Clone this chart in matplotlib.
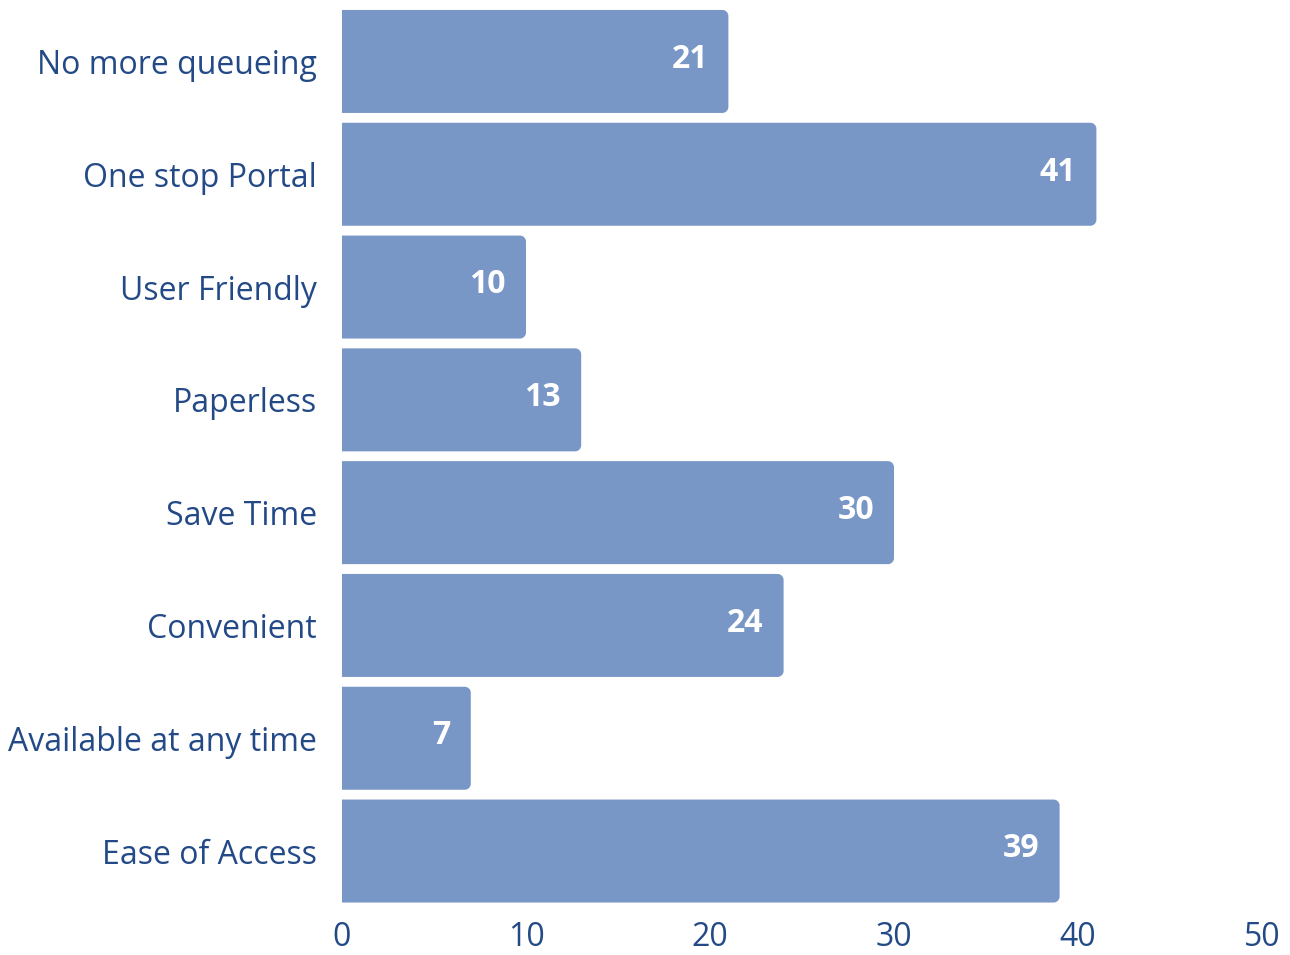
import matplotlib.pyplot as plt
from matplotlib.path import Path
from matplotlib.patches import PathPatch

categories = [
    "No more queueing",
    "One stop Portal",
    "User Friendly",
    "Paperless",
    "Save Time",
    "Convenient",
    "Available at any time",
    "Ease of Access",
]
counts = [21, 41, 10, 13, 30, 24, 7, 39]
xticks = [0, 10, 20, 30, 40, 50]

barColor = "#7896c6"
textColor = "#234a87"

plt.rcParams["font.family"] = ["Open Sans", "DejaVu Sans"]

fig = plt.figure(figsize=(12.9, 9.55), dpi=100)
ax = fig.add_axes([0.2651, 0.0498, 0.9783 - 0.2651, 0.9947 - 0.0498])

positions = list(range(len(categories)))
bars = ax.barh(positions, counts, height=0.913, color=barColor)
ax.set_xlim(0, 50)
ax.set_ylim(len(categories) - 0.5, -0.5)


def roundedRightPath(x0, y0, x1, y1, rx, ry):
    # rectangle with only the right-hand corners rounded (y grows downward)
    k = 0.55
    verts = [
        (x0, y0),
        (x1 - rx, y0),
        (x1 - rx + k * rx, y0), (x1, y0 + ry - k * ry), (x1, y0 + ry),
        (x1, y1 - ry),
        (x1, y1 - ry + k * ry), (x1 - rx + k * rx, y1), (x1 - rx, y1),
        (x0, y1),
        (x0, y0),
    ]
    codes = [
        Path.MOVETO,
        Path.LINETO,
        Path.CURVE4, Path.CURVE4, Path.CURVE4,
        Path.LINETO,
        Path.CURVE4, Path.CURVE4, Path.CURVE4,
        Path.LINETO,
        Path.CLOSEPOLY,
    ]
    return Path(verts, codes)


# corner radius ~6px converted into data units on each axis
pxPerX = ax.bbox.width / 50
pxPerY = ax.bbox.height / len(categories)
rx, ry = 6 / pxPerX, 6 / pxPerY

for bar, value in zip(bars, counts):
    x0, y0 = bar.get_x(), bar.get_y()
    x1, y1 = x0 + bar.get_width(), y0 + bar.get_height()
    bar.set_visible(False)
    ax.add_patch(PathPatch(roundedRightPath(x0, y0, x1, y1, rx, ry),
                           facecolor=barColor, edgecolor="none"))
    ax.text(x1 - 20 / pxPerX, y0 + bar.get_height() / 2 - 0.02, str(value),
            ha="right", va="center", color="white", fontsize=23,
            fontweight="bold")

ax.set_yticks(positions)
ax.set_yticklabels(categories)
ax.set_xticks(xticks)
ax.tick_params(axis="y", length=0, pad=18, labelsize=23, labelcolor=textColor)
ax.tick_params(axis="x", length=0, pad=10, labelsize=23, labelcolor=textColor)
for spine in ax.spines.values():
    spine.set_visible(False)

fig.savefig("out.png", dpi=100)
